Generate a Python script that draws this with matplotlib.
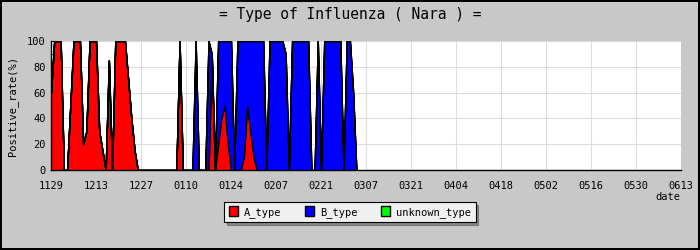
import matplotlib
matplotlib.use("Agg")
import matplotlib.pyplot as plt
from matplotlib.patches import Patch
import numpy as np
import pandas as pd

# daily positive rate (%) from 11/29, one value per day
A_type = [60, 100, 100, 100, 0, 0, 50, 100, 100, 100,
          20, 30, 100, 100, 100, 30, 15, 0, 85, 0,
          100, 100, 100, 100, 70, 40, 15, 0, 0, 0,
          0, 0, 0, 0, 0, 0, 0, 0, 0, 0,
          100, 0, 0, 0, 0, 0, 0, 0, 0, 0,
          90, 0, 20, 40, 50, 20, 0, 0, 0, 0,
          10, 50, 30, 10, 0, 0, 0, 0, 0, 0,
          0, 0, 0, 0, 0, 0, 0, 0, 0, 0,
          0, 0, 0, 0, 0, 0, 0, 0, 0, 0,
          0, 0, 0, 0, 0, 0]
B_type = [0, 0, 0, 0, 0, 0, 0, 0, 0, 0,
          0, 0, 0, 0, 0, 0, 0, 0, 0, 0,
          0, 0, 0, 0, 0, 0, 0, 0, 0, 0,
          0, 0, 0, 0, 0, 0, 0, 0, 0, 0,
          0, 0, 0, 0, 0, 100, 0, 0, 0, 100,
          0, 0, 80, 60, 50, 80, 100, 0, 100, 100,
          90, 50, 70, 90, 100, 100, 100, 0, 100, 100,
          100, 100, 100, 90, 0, 100, 100, 100, 100, 100,
          100, 0, 0, 100, 0, 100, 100, 100, 100, 100,
          100, 0, 100, 100, 60, 0]
unknown_type = [0] * len(A_type)

start = "2010-11-29"
n_days = 196
tick_step = 14

A = np.array(A_type, dtype=float)
B = np.array(B_type, dtype=float)
U = np.array(unknown_type, dtype=float)
days = np.arange(len(A))

dates = pd.date_range(start, periods=n_days + 1, freq="D")
tick_pos = np.arange(0, n_days + 1, tick_step)
tick_lab = [dates[i].strftime("%m%d") for i in tick_pos]

mono = "DejaVu Sans Mono"
bg = "#c8c8c8"

fig = plt.figure(figsize=(7, 2.5), dpi=100)
fig.patch.set_facecolor(bg)
fig.patch.set_edgecolor("black")
fig.patch.set_linewidth(1.5)

ax = fig.add_axes([51/700, 80/250, 630/700, 129/250])
ax.set_facecolor("white")

ax.fill_between(days, 0, A, facecolor="#ff0000", edgecolor="black", lw=1.0,
                antialiased=False, zorder=3)
ax.fill_between(days, A, A + B, facecolor="#0000ff", edgecolor="black", lw=1.0,
                antialiased=False, zorder=3)
ax.fill_between(days, A + B, A + B + U, facecolor="#00ff00", edgecolor="black", lw=1.0,
                antialiased=False, zorder=3)

ax.set_xlim(0, n_days)
ax.set_ylim(0, 100)
ax.set_xticks(tick_pos)
ax.set_xticklabels(tick_lab, fontfamily=mono, fontsize=7.5)
ax.set_yticks(range(0, 101, 20))
ax.set_yticklabels([str(v) for v in range(0, 101, 20)], fontfamily=mono, fontsize=7.5)
ax.set_yticks(range(10, 100, 20), minor=True)
ax.tick_params(axis="x", length=0, pad=8)
ax.tick_params(axis="y", which="both", direction="in", length=3, pad=4)
ax.grid(color="#dcdcdc", lw=0.8, zorder=0)

for s in ["top", "right"]:
    ax.spines[s].set_visible(False)
ax.spines["left"].set_linewidth(1)
ax.spines["bottom"].set_linewidth(1)

ax.set_ylabel("Positive_rate(%)", fontfamily=mono, fontsize=7.5, labelpad=6)
fig.text(680/700, 1 - 197/250, "date", ha="right", va="center", fontfamily=mono, fontsize=7.5)
fig.text(0.5, 1 - 14/250, "= Type of Influenza ( Nara ) =", ha="center", va="center",
         fontfamily=mono, fontsize=10.5)

handles = [Patch(facecolor="#ff0000", edgecolor="black", label="A_type"),
           Patch(facecolor="#0000ff", edgecolor="black", label="B_type"),
           Patch(facecolor="#00ff00", edgecolor="black", label="unknown_type")]
leg = fig.legend(handles=handles, loc="center", bbox_to_anchor=(350/700, 1 - 212/250),
                 ncol=3, frameon=True, fancybox=False, shadow=True,
                 prop={"family": mono, "size": 7.5}, handlelength=0.9, handleheight=1.0,
                 handletextpad=0.6, columnspacing=2.2, borderpad=0.4)
leg.get_frame().set_edgecolor("black")
leg.get_frame().set_facecolor("#f0f0f0")
leg.get_frame().set_linewidth(0.8)

fig.savefig("out.png", facecolor=fig.get_facecolor(), edgecolor=fig.get_edgecolor())
